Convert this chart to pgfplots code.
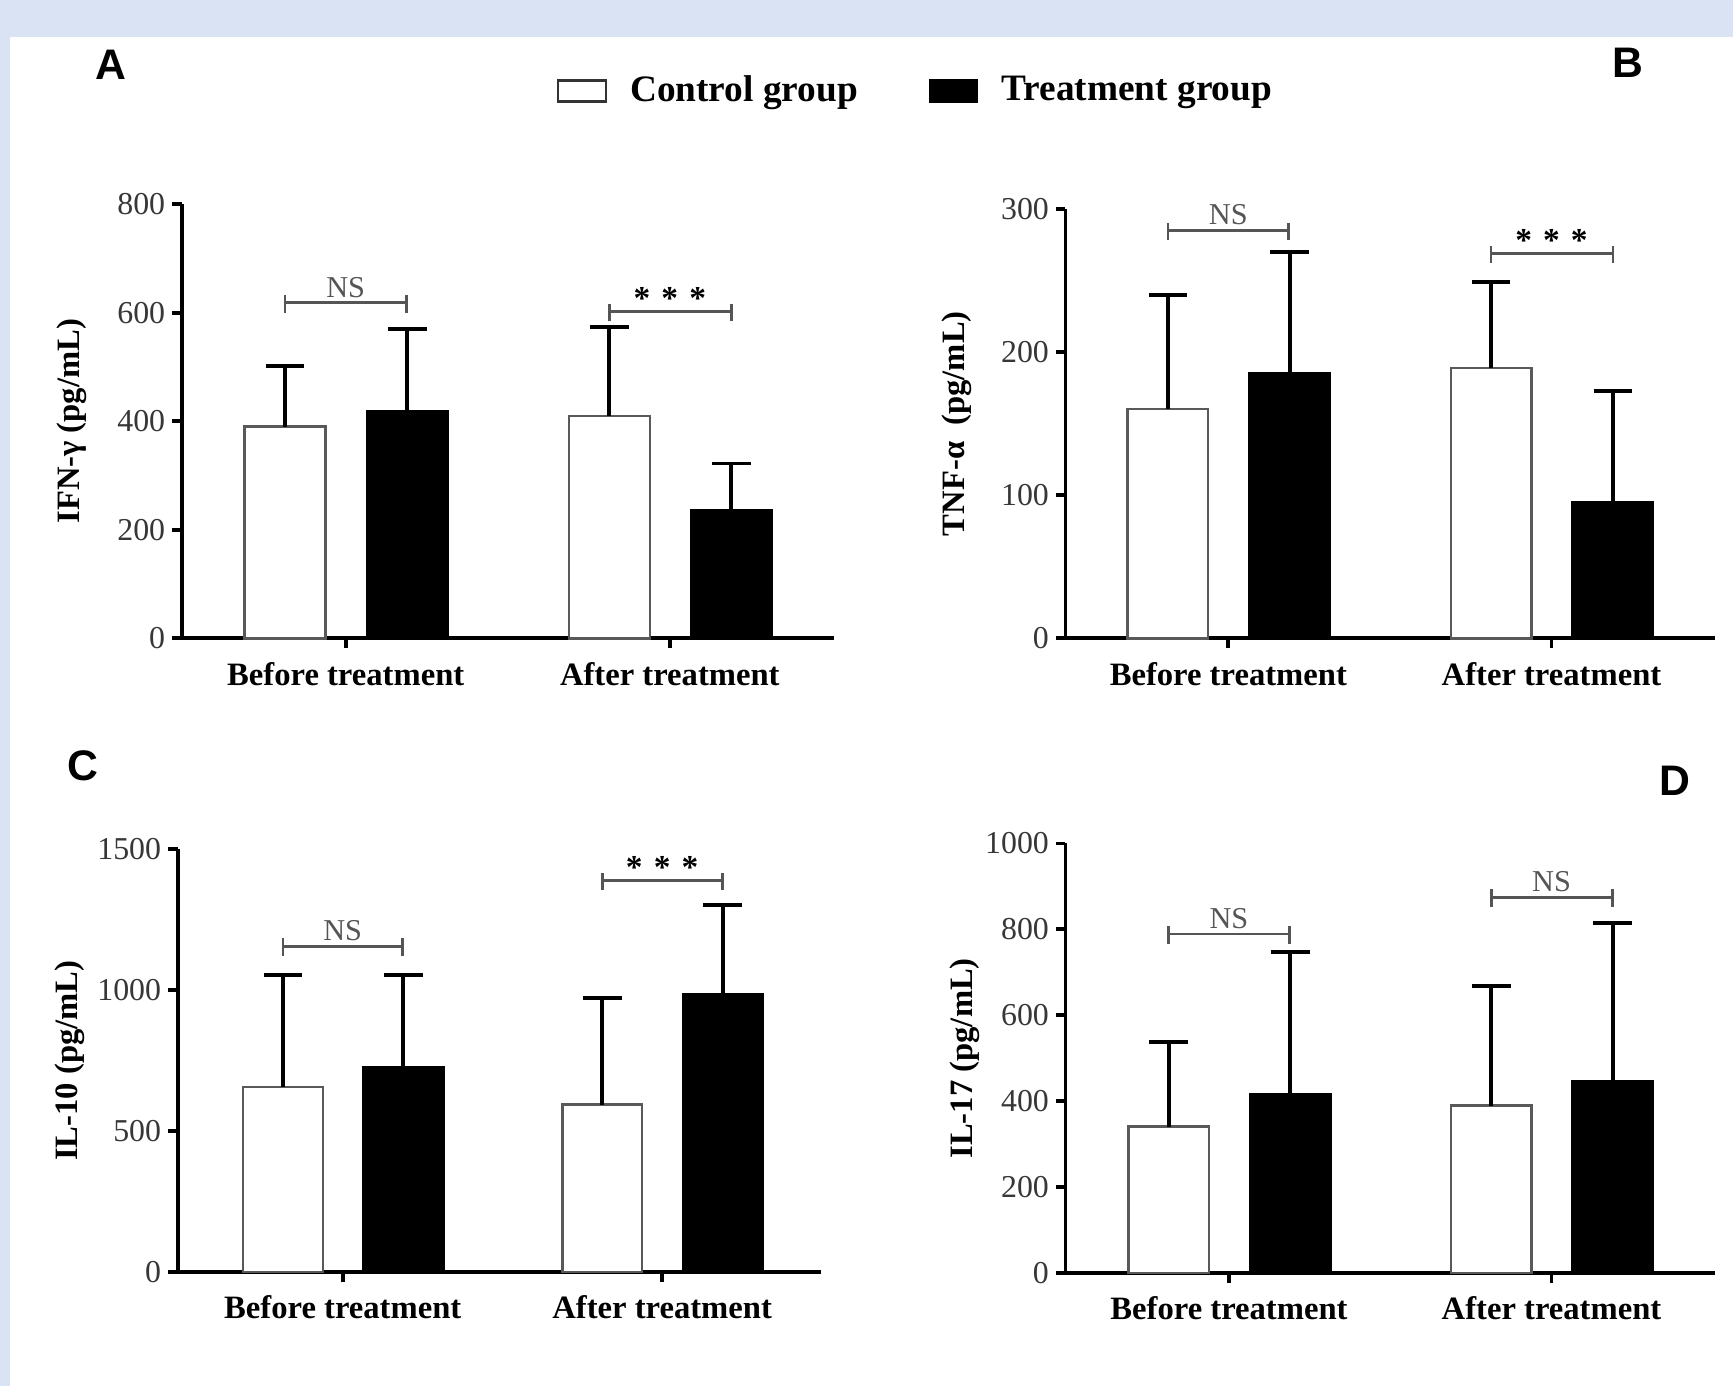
\documentclass[border=0pt]{standalone}
\usepackage{fontspec}
\setmainfont{Liberation Serif}
\newfontfamily\lsans{Liberation Sans}
\usepackage{pgfplots}
\pgfplotsset{compat=1.18}
\definecolor{frameblue}{RGB}{218,227,243}
\definecolor{ticktext}{RGB}{55,55,55}
\definecolor{bracketgray}{RGB}{85,85,85}

\pgfplotsset{
 panel/.style={
  scale only axis,
  anchor=south west,
  axis lines*=left,
  axis line style={line width=1pt, black},
  ymin=0,
  enlargelimits=false,
  xtick={0,1},
  xticklabels={Before treatment, After treatment},
  tick align=outside,
  major tick length=0.09cm,
  tick style={line width=1pt, black},
  xticklabel style={font=\bfseries\fontsize{8.4}{10}\selectfont, text=black},
  yticklabel style={font=\fontsize{8.2}{10}\selectfont, text=ticktext, inner xsep=1.5pt},
  /pgf/number format/assume math mode=true,
  /pgf/number format/1000 sep={},
  ylabel style={font=\bfseries\fontsize{8.4}{10}\selectfont, at={(axis description cs:-0.168,0.5)}, anchor=center},
  clip=false,
  error bars/y dir=plus,
  error bars/y explicit,
  error bars/error mark=|,
  error bars/error bar style={line width=1pt, black},
  error bars/error mark options={line width=1pt, black, mark size=0.175cm},
 },
 ctrl/.style={ybar, bar width=0.25, bar shift=0pt, fill=white, draw=black!65, line width=0.6pt,
   legend image code/.code={\draw[fill=white, draw=black!80, line width=0.6pt] (0cm,-0.095cm) rectangle (0.43cm,0.095cm);}},
 trt/.style={ybar, bar width=0.25, bar shift=0pt, fill=black, draw=black, line width=0.6pt,
   legend image code/.code={\draw[fill=black, draw=black, line width=0.6pt] (0cm,-0.095cm) rectangle (0.43cm,0.095cm);}},
}

% left, center, right, y, text
\newcommand{\sig}[5]{%
 \draw[bracketgray, line width=0.7pt] (axis cs:#1,#4) -- (axis cs:#3,#4);
 \draw[bracketgray, line width=0.7pt] ([yshift=-0.09cm]axis cs:#1,#4) -- ([yshift=0.07cm]axis cs:#1,#4);
 \draw[bracketgray, line width=0.7pt] ([yshift=-0.09cm]axis cs:#3,#4) -- ([yshift=0.07cm]axis cs:#3,#4);
 \node[anchor=base, inner sep=0pt] at ([yshift=0.05cm]axis cs:#2,#4) {#5};
}
\newcommand{\NS}{\textcolor{bracketgray}{\fontsize{7.8}{9}\selectfont NS}}
\newcommand{\stars}{\raisebox{-0.03cm}{\fontsize{8.6}{10}\selectfont\bfseries *\,\,*\,\,*}}

\begin{document}
\begin{tikzpicture}
\fill[frameblue] (0,0) rectangle (15.68,12.54);
\fill[white] (0.09,0) rectangle (15.68,12.205);

% ---------------- A ----------------
\begin{axis}[panel,
  at={(1.644cm,6.764cm)}, width=5.906cm, height=3.93cm,
  xmin=-0.506, xmax=1.508, ymax=800,
  ytick={0,200,400,600,800},
  ylabel={IFN-γ (pg/mL)},
  legend style={at={(axis description cs:0.574,1.26)}, anchor=west, draw=none, fill=none, inner sep=0pt,
    legend columns=2, font=\bfseries\fontsize{9.6}{11}\selectfont,
    /tikz/every odd column/.append style={column sep=0.14cm},
    /tikz/every even column/.append style={column sep=0.57cm}},
]
% Control group: Before (x=-0.187), After (x=0.813)
\addplot[ctrl] coordinates {(-0.187,390) +- (0,112) (0.813,409) +- (0,165)};
\addlegendentry{Control group}
% Treatment group: Before (x=0.19), After (x=1.19)
\addplot[trt] coordinates {(0.19,418) +- (0,151) (1.19,237) +- (0,85)};
\addlegendentry{Treatment group}
\sig{-0.187}{0}{0.187}{618}{\NS}
\sig{0.813}{1}{1.19}{602}{\stars}
\end{axis}

% ---------------- B ----------------
\begin{axis}[panel,
  at={(9.64cm,6.764cm)}, width=5.877cm, height=3.886cm,
  xmin=-0.504, xmax=1.506, ymax=300,
  ytick={0,100,200,300},
  ylabel={TNF-α\ \ (pg/mL)},
]
\addplot[ctrl] coordinates {(-0.187,160) +- (0,80) (0.813,189) +- (0,60)};
\addplot[trt] coordinates {(0.19,185) +- (0,85) (1.19,95) +- (0,78)};
\sig{-0.187}{0}{0.187}{285}{\NS}
\sig{0.813}{1}{1.19}{269}{\stars}
\end{axis}

% ---------------- C ----------------
\begin{axis}[panel,
  at={(1.607cm,1.028cm)}, width=5.823cm, height=3.832cm,
  xmin=-0.517, xmax=1.498, ymax=1500,
  ytick={0,500,1000,1500},
  ylabel={IL-10 (pg/mL)},
]
\addplot[ctrl] coordinates {(-0.187,656) +- (0,398) (0.813,594) +- (0,379)};
\addplot[trt] coordinates {(0.19,725) +- (0,329) (1.19,984) +- (0,318)};
\sig{-0.187}{0}{0.187}{1155}{\NS}
\sig{0.813}{1}{1.19}{1388}{\stars}
\end{axis}

% ---------------- D ----------------
\begin{axis}[panel,
  at={(9.64cm,1.021cm)}, width=5.877cm, height=3.887cm,
  xmin=-0.507, xmax=1.507, ymax=1000,
  ytick={0,200,400,600,800,1000},
  ylabel={IL-17 (pg/mL)},
  ylabel style={at={(axis description cs:-0.155,0.5)}},
]
\addplot[ctrl] coordinates {(-0.187,341) +- (0,197) (0.813,390) +- (0,279)};
\addplot[trt] coordinates {(0.19,416) +- (0,331) (1.19,446) +- (0,369)};
\sig{-0.187}{0}{0.187}{789}{\NS}
\sig{0.813}{1}{1.19}{875}{\NS}
\end{axis}

% panel letters
\node[font=\lsans\bfseries\fontsize{11}{13}\selectfont] at (1.004,11.954) {A};
\node[font=\lsans\bfseries\fontsize{11}{13}\selectfont] at (14.73,11.975) {B};
\node[font=\lsans\bfseries\fontsize{11}{13}\selectfont] at (0.753,5.613) {C};
\node[font=\lsans\bfseries\fontsize{11}{13}\selectfont] at (15.153,5.474) {D};
\end{tikzpicture}
\end{document}
